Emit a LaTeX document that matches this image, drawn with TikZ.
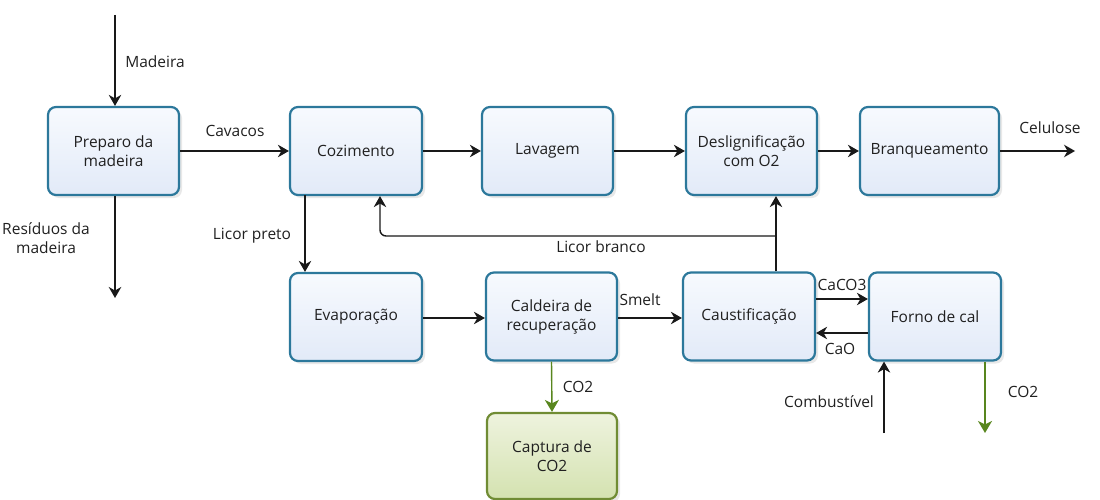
\documentclass[tikz,border=0pt]{standalone}
\usepackage{fontspec}
\setmainfont{Open Sans}
\usetikzlibrary{arrows.meta,shadows}
\definecolor{boxedge}{RGB}{44,120,155}
\definecolor{boxtop}{RGB}{247,250,254}
\definecolor{boxbot}{RGB}{226,234,248}
\definecolor{gedge}{RGB}{112,140,52}
\definecolor{gtop}{RGB}{238,243,222}
\definecolor{gbot}{RGB}{212,226,176}
\definecolor{garrow}{RGB}{88,134,30}
\definecolor{txt}{RGB}{32,32,32}
\tikzset{
  procbox/.style={draw=boxedge, line width=2.2pt, rounded corners=8pt,
    top color=boxtop, bottom color=boxbot, minimum width=131pt, minimum height=88pt,
    align=center, text=txt, font=\fontsize{15.5}{19}\selectfont,
    drop shadow={opacity=0.18, shadow xshift=3pt, shadow yshift=-3pt}},
  greenbox/.style={procbox, draw=gedge, top color=gtop, bottom color=gbot},
  flow/.style={line width=1.4pt, draw=black!90, -{Stealth[length=11pt,width=12.5pt,inset=3.5pt]}},
  gflow/.style={line width=1.4pt, draw=garrow, -{Stealth[length=12pt,width=14pt,inset=3.5pt,fill=garrow]}},
  lbl/.style={text=txt, font=\fontsize{15.5}{19}\selectfont, align=center, inner sep=1pt}
}
\begin{document}
\begin{tikzpicture}[x=1pt,y=-1pt]
\useasboundingbox (0,0) rectangle (1100,500);

% process steps, top row
\node[procbox] (prep) at (113.5,151) {Preparo da\\madeira};
\node[procbox, minimum width=132pt] (coz) at (356,151) {Cozimento};
\node[procbox] (lav) at (547.5,151) {Lavagem};
\node[procbox] (des) at (751.5,151) {Deslignificação\\com O2};
\node[procbox, minimum width=139pt] (bra) at (929.5,151) {Branqueamento};

% process steps, recovery row
\node[procbox, minimum width=132pt] (eva) at (356,317) {Evaporação};
\node[procbox] (cal) at (551.5,316.5) {Caldeira de\\recuperação};
\node[procbox, minimum width=132pt] (cau) at (749,316.5) {Caustificação};
\node[procbox, minimum width=132pt] (for) at (935,316.5) {Forno de cal};
\node[greenbox, minimum width=130pt, minimum height=86pt] (cap) at (552,456) {Captura de\\CO2};

% free ends
\coordinate (madtop) at (115,15);
\coordinate (resend) at (115,298);
\coordinate (celend) at (1075,151);
\coordinate (combot) at (884,433);
\coordinate (co2end) at (985,433);
\coordinate (lbjoin) at (776,236);
\coordinate (lbturn) at (380,236);

% main fibre line
\draw[flow] (madtop) -- (madtop |- prep.north);
\draw[flow] (resend |- prep.south) -- (resend);
\draw[flow] (prep.east) -- (coz.west);
\draw[flow] (coz) -- (lav);
\draw[flow] (lav) -- (des);
\draw[flow] (des) -- (bra);
\draw[flow] (bra.east) -- (celend);

% chemical recovery loop
\draw[flow] (305,195) -- (eva.north -| 305,0);
\draw[flow] (eva.east |- 0,318) -- (cal.west |- 0,318);
\draw[flow] (cal.east |- 0,318) -- (cau.west |- 0,318);
\draw[flow] (cau.north -| lbjoin) -- (des.south -| lbjoin);
\draw[flow, rounded corners=6pt] (lbjoin) -- (lbturn) -- (coz.south -| lbturn);
\draw[flow] (cau.east |- 0,299) -- (for.west |- 0,299);
\draw[flow] (for.west |- 0,333) -- (cau.east |- 0,333);
\draw[flow] (combot) -- (combot |- for.south);
\draw[gflow] (co2end |- for.south) -- (co2end);
\draw[gflow] (cal.south) -- (cap.north);

% stream labels
\node[lbl] at (155,62) {Madeira};
\node[lbl] at (46,238) {Resíduos da\\madeira};
\node[lbl] at (235,131) {Cavacos};
\node[lbl] at (1050,128) {Celulose};
\node[lbl] at (252,236) {Licor preto};
\node[lbl] at (601,247) {Licor branco};
\node[lbl] at (640,300) {Smelt};
\node[lbl] at (578,387) {CO2};
\node[lbl] at (842,285) {CaCO3};
\node[lbl] at (840,349) {CaO};
\node[lbl] at (829,402) {Combustível};
\node[lbl] at (1023,392) {CO2};
\end{tikzpicture}
\end{document}
